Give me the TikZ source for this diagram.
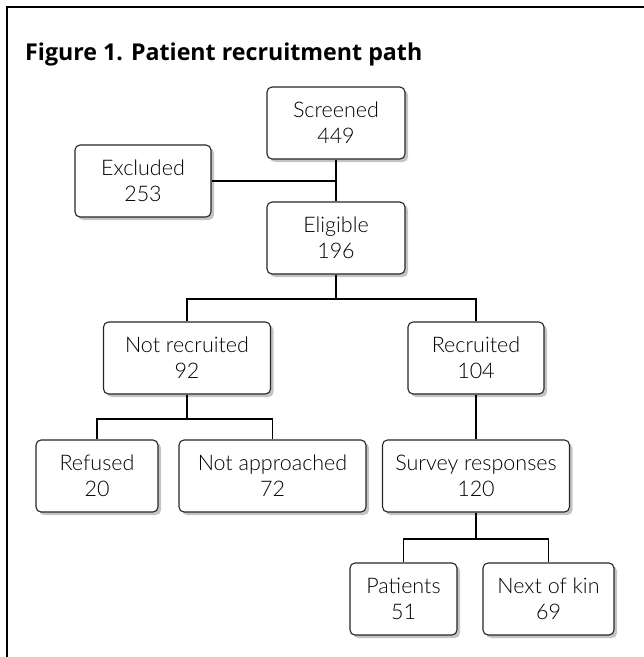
\documentclass[tikz,border=0pt]{standalone}
\usepackage{fontspec}
\setmainfont{Lato Light}
\newfontfamily\titlefont{Open Sans}
\usepackage{tikz}
\usetikzlibrary{positioning, shadows}
\definecolor{recshadow}{HTML}{C4C4C4}
\tikzset{
  recbox/.style={draw=black!85, line width=1.1pt, rounded corners=5pt, fill=white, align=center,
    inner sep=0pt, minimum width=#1, minimum height=72pt, font=\fontsize{21.5}{26}\selectfont,
    drop shadow={shadow xshift=3pt, shadow yshift=-3pt, fill=recshadow, opacity=1}},
  recline/.style={line width=1.9pt, black},
  rectitle/.style={font=\titlefont\bfseries\fontsize{23.2}{28}\selectfont, inner sep=0pt},
  recframe/.style={line width=2pt, black},
}

\begin{document}
\begin{tikzpicture}[x=1pt,y=1pt]
  \useasboundingbox (0,0) rectangle (644,-657);
  % Rahmen und Titel
  \draw[recframe] (7,-657) -- (7,-7) -- (644,-7);
  \node[rectitle, anchor=base west] (title) at (25,-60) {Figure 1. Patient recruitment path};

  % Kaesten
  \node[recbox=138pt] (scr) at (336,-123) {Screened\\449};
  \node[recbox=136pt] (exc) at (143,-181) {Excluded\\253};
  \node[recbox=138pt] (eli) at (336,-238) {Eligible\\196};
  \node[recbox=167pt] (nrec) at (187,-358) {Not recruited\\92};
  \node[recbox=136pt] (rec) at (476,-358) {Recruited\\104};
  \node[recbox=122pt] (ref) at (97,-476) {Refused\\20};
  \node[recbox=187pt] (nap) at (272.5,-476) {Not approached\\72};
  \node[recbox=187pt] (sur) at (476,-476) {Survey responses\\120};
  \node[recbox=107pt] (pat) at (403.5,-599) {Patients\\51};
  \node[recbox=131pt] (nok) at (548.5,-599) {Next of kin\\69};

  % Verbindungen
  \draw[recline] (scr.south) -- (eli.north);
  \draw[recline] (exc.east) -- (exc.east -| scr.south);
  \draw[recline] (eli.south) -- ++(0,-24) -| (nrec.north);
  \draw[recline] (eli.south) -- ++(0,-24) -| (rec.north);
  \draw[recline] (nrec.south) -- ++(0,-24) -| (ref.north);
  \draw[recline] (nrec.south) -- ++(0,-24) -| (nap.north);
  \draw[recline] (rec.south) -- (sur.north);
  \draw[recline] (sur.south) -- ++(0,-26) -| (pat.north);
  \draw[recline] (sur.south) -- ++(0,-26) -| (nok.north);
\end{tikzpicture}
\end{document}
